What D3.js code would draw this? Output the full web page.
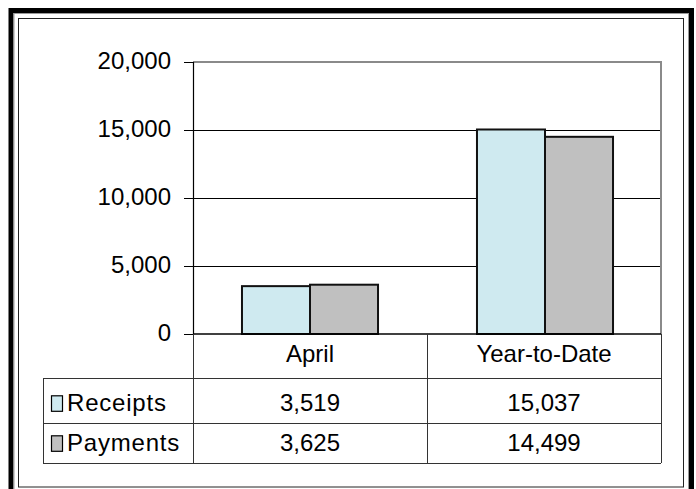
<!DOCTYPE html>
<html><head><meta charset="utf-8">
<script src="https://cdn.jsdelivr.net/npm/d3@7"></script>
<style>html,body{margin:0;padding:0;background:#fff;overflow:hidden}</style>
</head><body>
<svg id="c" width="696" height="489"></svg>
<script>
const categories = ["April", "Year-to-Date"];
const seriesNames = ["Receipts", "Payments"];
const receipts = [3519, 15037];
const payments = [3625, 14499];
const yTicks = [0, 5000, 10000, 15000, 20000];
const colors = ["#cfeaf0", "#c0c0c0"];

(function () {
const svg = d3.select("#c");
const font = "Arial, 'Liberation Sans', sans-serif";
const fs = 24;

// frames
svg.append("rect").attr("x", 11).attr("y", 10.5).attr("width", 680.5).attr("height", 520)
  .attr("fill", "none").attr("stroke", "#000").attr("stroke-width", 5);
svg.append("rect").attr("x", 14).attr("y", 13.5).attr("width", 674.5).attr("height", 520)
  .attr("fill", "none").attr("stroke", "#999").attr("stroke-width", 1);
svg.append("rect").attr("x", 18.5).attr("y", 18.5).attr("width", 665).attr("height", 468.5)
  .attr("fill", "none").attr("stroke", "#222").attr("stroke-width", 1);

const pLeft = 193, pRight = 661, pTop = 62, zeroY = 334;
const y = d3.scaleLinear().domain([0, 20000]).range([zeroY, pTop]);
const x0 = d3.scaleBand().domain(categories).range([pLeft, pRight]).padding(0);
const x1 = d3.scaleBand().domain(seriesNames).range([0, x0.bandwidth()]).paddingInner(0).paddingOuter(0.72);

// gridlines
svg.append("g").selectAll("line").data(yTicks.filter(t => t > 0 && t < 20000)).join("line")
  .attr("x1", pLeft).attr("x2", pRight).attr("y1", d => Math.round(y(d)) + 0.5).attr("y2", d => Math.round(y(d)) + 0.5)
  .attr("stroke", "#000").attr("stroke-width", 1);
// plot area top & right border
svg.append("path").attr("d", `M${pLeft},${pTop} H${pRight} V${zeroY}`)
  .attr("fill", "none").attr("stroke", "#8a8a8a").attr("stroke-width", 2);

// bars
const data = [receipts, payments];
const g = svg.append("g");
categories.forEach((c, ci) => {
  seriesNames.forEach((s, si) => {
    const v = data[si][ci];
    g.append("rect")
      .attr("x", x0(c) + x1(s) + ci)
      .attr("y", y(v))
      .attr("width", x1.bandwidth())
      .attr("height", y(0) - y(v))
      .attr("fill", colors[si]).attr("stroke", "#111").attr("stroke-width", 2);
  });
});

// y axis
const yAxis = d3.axisLeft(y).tickValues(yTicks).tickSize(9).tickPadding(13)
  .tickFormat(d3.format(","));
const ax = svg.append("g").attr("transform", `translate(${pLeft},0)`).call(yAxis);
ax.select(".domain").attr("stroke", "#000").attr("stroke-width", 1.2);
ax.selectAll(".tick line").attr("stroke", "#000");
ax.selectAll(".tick text").attr("font-family", font).attr("font-size", fs).attr("fill", "#000").attr("dy", "0.25em");

// zero line
svg.append("line").attr("x1", pLeft).attr("x2", pRight).attr("y1", zeroY).attr("y2", zeroY)
  .attr("stroke", "#000").attr("stroke-width", 1.5);

// data table
const tLeft = 43, rowY = [zeroY, 378, 423, 463];
const tl = svg.append("g").attr("stroke", "#333").attr("stroke-width", 1).attr("fill", "none");
[1, 2, 3].forEach(i => {
  tl.append("line").attr("x1", tLeft).attr("x2", pRight).attr("y1", rowY[i] + 0.5).attr("y2", rowY[i] + 0.5);
});
tl.append("line").attr("x1", tLeft + 0.5).attr("x2", tLeft + 0.5).attr("y1", rowY[1]).attr("y2", rowY[3]);
tl.append("line").attr("x1", pLeft + 0.5).attr("x2", pLeft + 0.5).attr("y1", zeroY).attr("y2", rowY[3]);
categories.forEach(c => {
  const xx = x0(c) + x0.bandwidth();
  tl.append("line").attr("x1", xx + 0.5).attr("x2", xx + 0.5).attr("y1", zeroY).attr("y2", rowY[3]);
});

// category labels
svg.append("g").selectAll("text").data(categories).join("text")
  .attr("x", d => x0(d) + x0.bandwidth() / 2).attr("y", 361.5)
  .attr("text-anchor", "middle")
  .attr("font-family", font).attr("font-size", fs).text(d => d);

// value cells & legend
const fmt = d3.format(",");
seriesNames.forEach((s, si) => {
  const base = rowY[si + 2] - 11.7;
  svg.append("rect").attr("x", 51.5).attr("y", base - 15.5).attr("width", 11).attr("height", 15.5)
    .attr("fill", colors[si]).attr("stroke", "#000").attr("stroke-width", 1.2);
  svg.append("text").attr("x", 67).attr("y", base)
    .attr("font-family", font).attr("font-size", fs).attr("letter-spacing", "0.8px").text(s);
  categories.forEach((c, ci) => {
    svg.append("text").attr("x", x0(c) + x0.bandwidth() / 2).attr("y", base)
      .attr("text-anchor", "middle").attr("font-family", font).attr("font-size", fs)
      .text(fmt(data[si][ci]));
  });
});
})();
</script>
</body></html>
